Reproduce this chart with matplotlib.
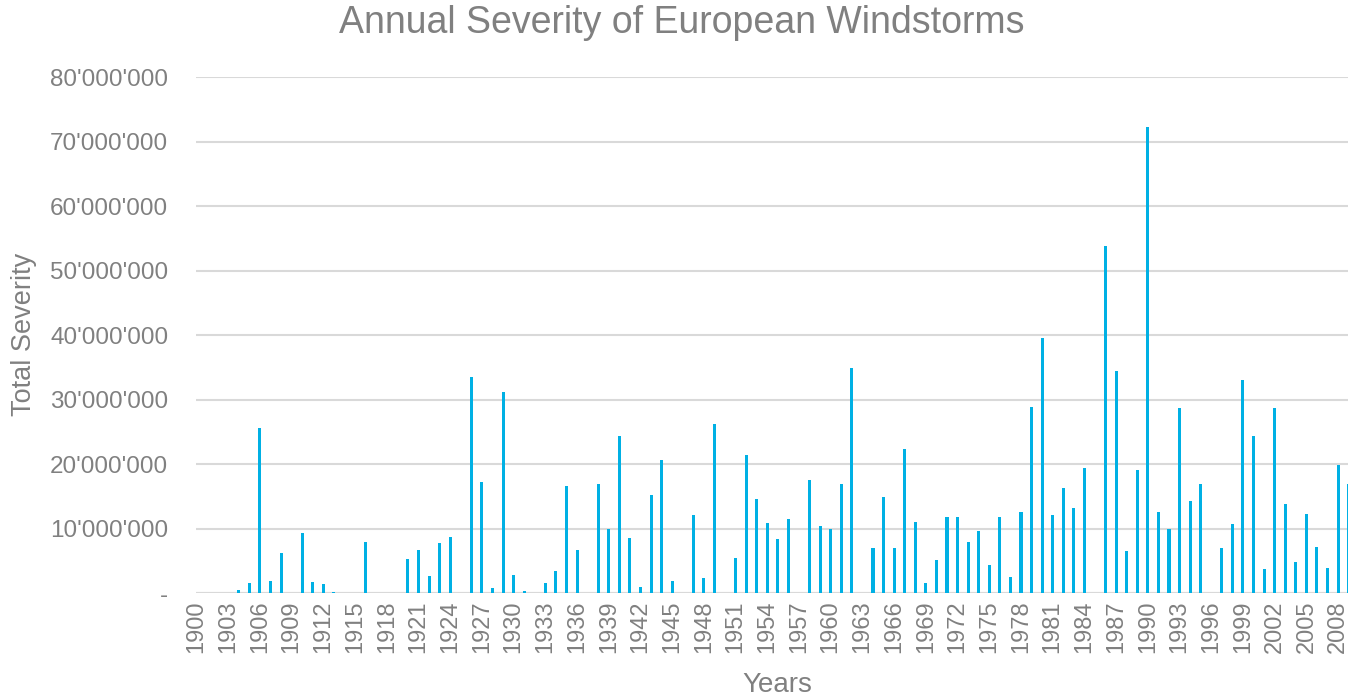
import matplotlib
matplotlib.use("Agg")
import matplotlib.pyplot as plt
from matplotlib.ticker import FuncFormatter, MultipleLocator

plt.rcParams['font.family'] = ['Liberation Sans', 'DejaVu Sans']

# Annual windstorm severity, 1900-2009
years = list(range(1900, 2010))
severity_millions = [
    0, 0, 0, 0, 0.46, 1.6, 25.7, 1.95, 6.3, 0,            # 1900-1909
    9.3, 1.8, 1.4, 0.25, 0, 0, 7.9, 0, 0, 0,               # 1910-1919
    5.3, 6.75, 2.7, 7.8, 8.7, 0, 33.6, 17.3, 0.87, 31.2,   # 1920-1929
    2.8, 0.4, 0, 1.55, 3.5, 16.6, 6.7, 0, 17.0, 9.95,      # 1930-1939
    24.45, 8.56, 0.97, 15.2, 20.6, 1.9, 0, 12.07, 2.3, 26.2,  # 1940-1949
    0, 5.5, 21.5, 14.6, 10.9, 8.4, 11.55, 0, 17.5, 10.47,  # 1950-1959
    10.0, 16.9, 34.9, 0, 7.1, 14.9, 6.95, 22.3, 11.0, 1.6,  # 1960-1969
    5.2, 11.8, 11.9, 7.94, 9.64, 4.38, 11.9, 2.6, 12.6, 28.9,  # 1970-1979
    39.6, 12.07, 16.35, 13.2, 19.35, 0, 53.9, 34.5, 6.5, 19.1,  # 1980-1989
    72.3, 12.6, 9.9, 28.8, 14.3, 17.0, 0, 6.95, 10.8, 33.1,  # 1990-1999
    24.35, 3.7, 28.7, 13.9, 4.8, 12.3, 7.2, 4.0, 19.9, 17.0,  # 2000-2009
]
severity = [v * 1e6 for v in severity_millions]
tick_years = list(range(1900, 2009, 3))

TEXT = '#808080'
GRID = '#d9d9d9'
BAR = '#00B0E4'

W, H = 1348, 698
fig = plt.figure(figsize=(W / 100, H / 100), dpi=100)

left_px, bottom_px, top_px = 196.0, 593.3, 77.3
px_per_year = 10.57
x_min, x_max = 1899.95, 2010.2
ax = fig.add_axes([left_px / W, (H - bottom_px) / H,
                   (x_max - x_min) * px_per_year / W, (bottom_px - top_px) / H])

ax.bar(years, severity, width=0.29, color=BAR, zorder=3)

ax.set_xlim(x_min, x_max)
ax.set_ylim(0, 80e6)
ax.yaxis.set_major_locator(MultipleLocator(10e6))


def fmt(v, _):
    if abs(v) < 1:
        return '-'
    return f"{int(round(v)):,}".replace(',', "'")


ax.yaxis.set_major_formatter(FuncFormatter(fmt))
ax.grid(axis='y', color=GRID, linewidth=1.5, zorder=0)
ax.set_axisbelow(True)
for s in ax.spines.values():
    s.set_visible(False)
ax.axhline(0, color=GRID, linewidth=1.5, zorder=1)

ax.set_xticks(tick_years)
ax.set_xticklabels([str(y) for y in tick_years], rotation=90, fontsize=17, color=TEXT)
ax.tick_params(axis='both', length=0, colors=TEXT)
ax.tick_params(axis='x', pad=5, labelsize=17)
ax.tick_params(axis='y', pad=20, labelsize=17.5)

fig.text(24 / W, 1 - 334 / H, 'Total Severity', rotation=90, ha='center', va='center',
         fontsize=19.5, color=TEXT)
fig.text(777.5 / W, 1 - 685 / H, 'Years', ha='center', va='center', fontsize=20, color=TEXT)
fig.text(681.5 / W, 1 - 23 / H, 'Annual Severity of European Windstorms', ha='center',
         va='center', fontsize=27, color=TEXT)

fig.savefig('out.png', dpi=100)
